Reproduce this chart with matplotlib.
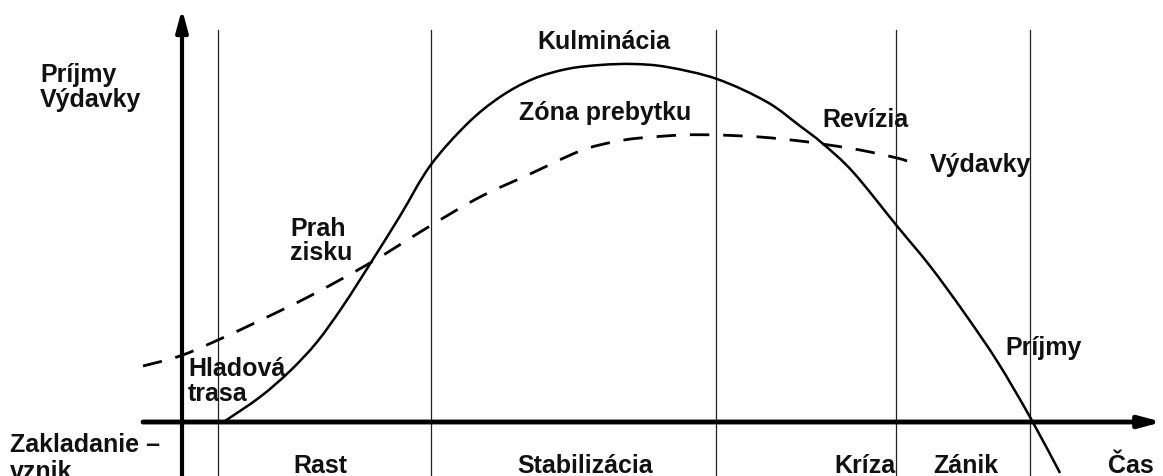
import numpy as np
import matplotlib
matplotlib.use('Agg')
from matplotlib import pyplot as plt
from matplotlib.path import Path
from matplotlib.patches import PathPatch

plt.rcParams['font.family'] = ['Liberation Sans', 'DejaVu Sans']

# data: x = time units from the origin, y = amount (both in px units of the picture)
ox, oy = 182, 423  # origin of the axes in the source picture

# Príjmy (solid curve)
prijmy_x = np.array([225, 260, 290, 317, 343, 370, 400, 430, 467, 500, 533, 567, 600, 633, 667,
                     717, 767, 800, 822, 853, 897, 930, 963, 997, 1030, 1060]) - ox
prijmy_y = oy - np.array([422, 398, 372, 343, 307, 265, 217, 167, 125, 98, 80, 70, 66, 65, 68,
                          80, 103, 127, 144, 173, 227, 267, 312, 362, 418, 474])

# Výdavky (dashed curve)
vydavky_x = np.array([143, 180, 218, 263, 310, 370, 430, 480, 530, 580, 613, 640,
                      683, 717, 760, 800, 822, 860, 897, 910]) - ox
vydavky_y = oy - np.array([367, 357, 341, 320, 297, 264, 227, 198, 175, 152, 143, 139,
                           136, 136, 138, 142, 145, 151, 159, 163])

# phase boundaries
hranice = np.array([218, 431, 716, 896, 1030]) - ox

faza_nazvy = ['Rast', 'Stabilizácia', 'Kríza', 'Zánik', 'Čas']
faza_x = np.array([320, 585, 865, 966, 1131]) - ox


def hladka(x, y):
    # catmull-rom -> bezier, len pre vykreslenie hladkej krivky cez body
    p = np.column_stack([x, y]).astype(float)
    p = np.vstack([p[0], p, p[-1]])
    verts = [p[1]]
    codes = [Path.MOVETO]
    for i in range(1, len(p) - 2):
        c1 = p[i] + (p[i + 1] - p[i - 1]) / 6
        c2 = p[i + 1] - (p[i + 2] - p[i]) / 6
        verts += [c1, c2, p[i + 1]]
        codes += [Path.CURVE4] * 3
    return Path(verts, codes)


fig = plt.figure(figsize=(11.63, 4.77), dpi=100)
ax = fig.add_axes([0, 0, 1, 1])
ax.set_xlim(-ox, 1163 - ox)
ax.set_ylim(oy - 477, oy)
ax.axis('off')

# vertical phase lines
for h in hranice:
    ax.plot([h, h], [oy - 477, oy - 31], color='#222222', lw=0.9, zorder=1)

# axes with arrows
ax.annotate('', xy=(0, oy - 10), xytext=(0, oy - 480),
            arrowprops=dict(arrowstyle='-|>,head_length=1.3,head_width=0.35', lw=3, color='black',
                            shrinkA=0, shrinkB=0))
ax.annotate('', xy=(1162 - ox, 0), xytext=(143 - ox, 0),
            arrowprops=dict(arrowstyle='-|>,head_length=1.3,head_width=0.35', lw=3.5, color='black',
                            shrinkA=0, shrinkB=0))

# curves
ax.add_patch(PathPatch(hladka(prijmy_x, prijmy_y), fill=False, color='black', lw=1.8, zorder=3))
ax.add_patch(PathPatch(hladka(vydavky_x, vydavky_y), fill=False, color='black', lw=2,
                       linestyle=(0, (7, 5)), zorder=3))

fs = 18
txt = dict(fontsize=fs, fontweight='bold', color='#111111')


def t(px, py, s, ha='left'):
    ax.text(px - ox, oy - py, s, ha=ha, va='center', **txt)


t(40, 75, 'Príjmy')
t(40, 100, 'Výdavky')
t(604, 42, 'Kulminácia', ha='center')
t(605, 113, 'Zóna prebytku', ha='center')
t(822, 120, 'Revízia')
t(930, 165, 'Výdavky')
t(290, 229, 'Prah')
t(290, 253, 'zisku')
t(188, 369, 'Hladová')
t(188, 394, 'trasa')
t(1005, 348, 'Príjmy')
t(10, 445, 'Zakladanie –')
t(10, 472, 'vznik')

for n, x in zip(faza_nazvy, faza_x):
    ax.text(x, oy - 466, n, ha='center', va='center', **txt)

fig.savefig('out.png', dpi=100, facecolor='white')
